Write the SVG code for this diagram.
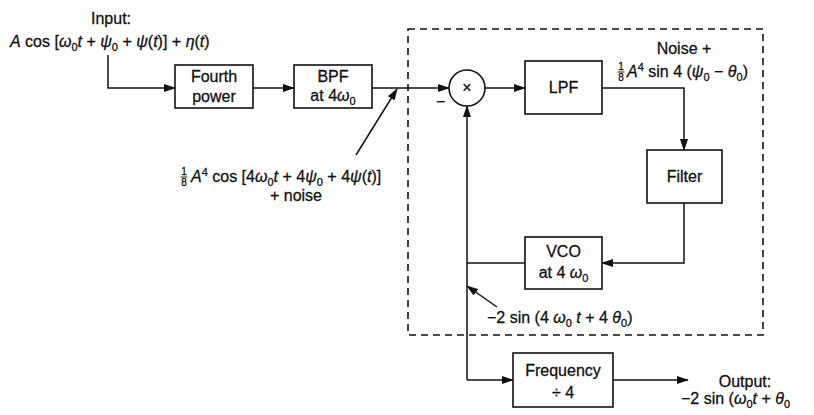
<svg xmlns="http://www.w3.org/2000/svg" width="814" height="415" viewBox="0 0 814 415">
<defs>
<marker id="ah" viewBox="0 0 12 8" refX="11" refY="4" markerWidth="12" markerHeight="8" markerUnits="userSpaceOnUse" orient="auto">
<path d="M0,0 L12,4 L0,8 Z" fill="#111"/>
</marker>
<style>
text{font-family:"Liberation Sans",Arial,sans-serif;font-size:16px;fill:#111;stroke:#111;stroke-width:0.3}
.c{text-anchor:middle}
.i{font-style:italic}
.s{font-size:11px}
.f{font-size:10px}
.box{fill:#fff;stroke:#111;stroke-width:1.6}
.ln{fill:none;stroke:#111;stroke-width:1.5}
.ar{fill:none;stroke:#111;stroke-width:1.5;marker-end:url(#ah)}
.dash{fill:none;stroke:#111;stroke-width:1.6;stroke-dasharray:7,5}
</style>
</defs>
<rect width="814" height="415" fill="#fff"/>
<rect class="dash" x="408" y="29" width="355" height="306"/>
<g id="connectors">
<path class="ar" d="M108,55 V88 H175"/>
<path class="ar" d="M253,88 H294"/>
<path class="ar" d="M372,88 H449"/>
<path class="ar" d="M485,88 H525"/>
<path class="ar" d="M602,88 H684 V150"/>
<path class="ar" d="M684,203 V263 H602"/>
<path class="ln" d="M525,263 H467"/>
<path class="ar" d="M467,380 V106"/>
<path class="ar" d="M467,380 H513"/>
<path class="ar" d="M613,380 H688"/>
<path class="ar" d="M356,155 L397,89"/>
<path class="ar" d="M497,307 L467,286"/>
</g>
<g id="input-label">
<text class="c" x="111" y="24">Input:</text>
<text x="10" y="47"><tspan class="i">A</tspan> cos [<tspan class="i">ω</tspan><tspan class="s" dy="4">0</tspan><tspan class="i" dy="-4">t</tspan> + <tspan class="i">ψ</tspan><tspan class="s" dy="4">0</tspan><tspan dy="-4"> + </tspan><tspan class="i">ψ</tspan>(<tspan class="i">t</tspan>)] + <tspan class="i">η</tspan>(<tspan class="i">t</tspan>)</text>
</g>
<g id="fourth-power">
<rect class="box" x="175" y="65" width="78" height="43"/>
<text class="c" x="214" y="82">Fourth</text>
<text class="c" x="214" y="102">power</text>
</g>
<g id="bpf">
<rect class="box" x="294" y="65" width="78" height="43"/>
<text class="c" x="333" y="82">BPF</text>
<text class="c" x="333" y="101">at 4<tspan class="i">ω</tspan><tspan class="s" dy="4">0</tspan></text>
</g>
<g id="bpf-label">
<text class="f c" x="184" y="175">1</text>
<line x1="180.5" y1="177" x2="187.5" y2="177" stroke="#111" stroke-width="0.9"/>
<text class="f c" x="184" y="186">8</text>
<text x="191" y="182"><tspan class="i">A</tspan><tspan class="s" dy="-6">4</tspan><tspan dy="6"> cos [4</tspan><tspan class="i">ω</tspan><tspan class="s" dy="4">0</tspan><tspan class="i" dy="-4">t</tspan> + 4<tspan class="i">ψ</tspan><tspan class="s" dy="4">0</tspan><tspan dy="-4"> + 4</tspan><tspan class="i">ψ</tspan>(<tspan class="i">t</tspan>)]</text>
<text class="c" x="296" y="201">+ noise</text>
</g>
<g id="multiplier">
<circle cx="467" cy="88" r="18" fill="#fff" stroke="#111" stroke-width="1.6"/>
<text class="c" x="467" y="93">×</text>
<text x="436" y="107">−</text>
</g>
<g id="lpf">
<rect class="box" x="525" y="61" width="77" height="53"/>
<text class="c" x="563.5" y="93">LPF</text>
</g>
<g id="lpf-label">
<text class="c" x="684" y="54">Noise +</text>
<text class="f c" x="621" y="70">1</text>
<line x1="617.5" y1="72" x2="624.5" y2="72" stroke="#111" stroke-width="0.9"/>
<text class="f c" x="621" y="81">8</text>
<text x="627" y="77"><tspan class="i">A</tspan><tspan class="s" dy="-6">4</tspan><tspan dy="6"> sin 4 (</tspan><tspan class="i">ψ</tspan><tspan class="s" dy="4">0</tspan><tspan dy="-4"> − </tspan><tspan class="i">θ</tspan><tspan class="s" dy="4">0</tspan><tspan dy="-4">)</tspan></text>
</g>
<g id="filter">
<rect class="box" x="647" y="150" width="75" height="53"/>
<text class="c" x="684.5" y="182">Filter</text>
</g>
<g id="vco">
<rect class="box" x="525" y="237" width="77" height="52"/>
<text class="c" x="563.5" y="257">VCO</text>
<text class="c" x="563.5" y="278">at 4 <tspan class="i">ω</tspan><tspan class="s" dy="4">0</tspan></text>
</g>
<g id="vco-label">
<text x="487" y="323">−2 sin (4 <tspan class="i">ω</tspan><tspan class="s" dy="4">0</tspan><tspan class="i" dy="-4"> t</tspan> + 4 <tspan class="i">θ</tspan><tspan class="s" dy="4">0</tspan><tspan dy="-4">)</tspan></text>
</g>
<g id="frequency-divider">
<rect class="box" x="513" y="353" width="100" height="54"/>
<text class="c" x="563" y="376">Frequency</text>
<text class="c" x="563" y="398">÷ 4</text>
</g>
<g id="output-label">
<text class="c" x="745" y="387">Output:</text>
<text x="681" y="404">−2 sin (<tspan class="i">ω</tspan><tspan class="s" dy="4">0</tspan><tspan class="i" dy="-4">t</tspan> + <tspan class="i">θ</tspan><tspan class="s" dy="4">0</tspan></text>
</g>
</svg>
